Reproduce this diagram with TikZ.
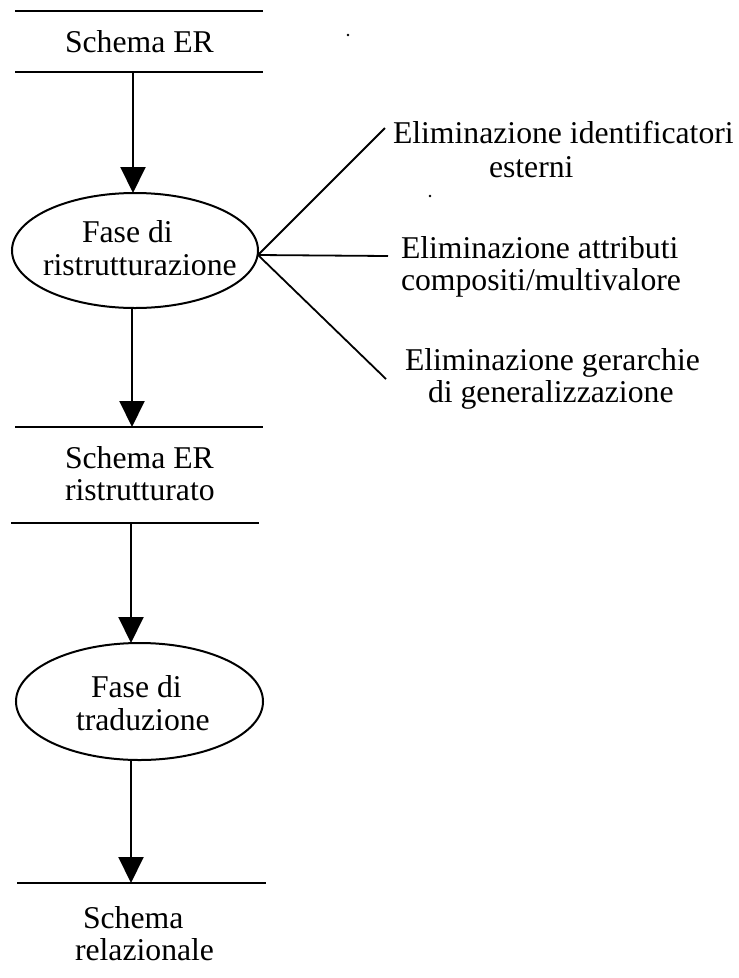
\documentclass[tikz,border=0pt]{standalone}
\usepackage{fontspec}
\setmainfont{Liberation Serif}
\usetikzlibrary{arrows.meta,shapes.geometric}
\begin{document}
\begin{tikzpicture}[x=1pt,y=-1pt,
  txt/.style={inner sep=0pt,outer sep=0pt,anchor=base west,font=\fontsize{31.7}{33}\selectfont},
  hline/.style={line width=2pt},
  conn/.style={line width=1.8pt},
  arr/.style={line width=2pt,-{Triangle[width=25pt,length=26pt]}},
  phase/.style={ellipse,draw,line width=2pt,inner sep=0pt,outer sep=0pt},
  speck/.style={fill=black,circle,inner sep=0pt,minimum size=2.6pt}
]
\useasboundingbox (0,0) rectangle (739,978);
\fill[white] (0,0) rectangle (739,978);

% horizontal lines
\coordinate (l1a) at (15,11);  \coordinate (l1b) at (263,11);
\coordinate (l2a) at (15,72);  \coordinate (l2b) at (263,72);
\coordinate (l3a) at (15,427); \coordinate (l3b) at (263,427);
\coordinate (l4a) at (11,523); \coordinate (l4b) at (259,523);
\coordinate (l5a) at (17,883); \coordinate (l5b) at (266,883);
\draw[hline] (l1a) -- (l1b);
\draw[hline] (l2a) -- (l2b);
\draw[hline] (l3a) -- (l3b);
\draw[hline] (l4a) -- (l4b);
\draw[hline] (l5a) -- (l5b);

% phases
\node[phase,minimum width=246pt,minimum height=115pt] (e1) at (135,250.5) {};
\node[phase,minimum width=247pt,minimum height=117pt] (e2) at (139.5,701.5) {};

% texts
\node[txt] (s1) at (65,52) {Schema ER};
\node[txt] (f1a) at (82,242) {Fase di};
\node[txt] (f1b) at (43,275) {ristrutturazione};
\node[txt] (s2a) at (65,468) {Schema ER};
\node[txt] (s2b) at (65,500) {ristrutturato};
\node[txt] (f2a) at (91,697) {Fase di};
\node[txt] (f2b) at (76,730) {traduzione};
\node[txt] (s3a) at (83,928) {Schema};
\node[txt] (s3b) at (75,960) {relazionale};

\node[txt] (r1a) at (393,143) {Eliminazione identificatori};
\node[txt] (r1b) at (489,177) {esterni};
\node[txt] (r2a) at (401,258) {Eliminazione attributi};
\node[txt] (r2b) at (401,290) {compositi/multivalore};
\node[txt] (r3a) at (405,370) {Eliminazione gerarchie};
\node[txt] (r3b) at (428,402) {di generalizzazione};

% arrows
\coordinate (a1) at (133,72);
\coordinate (a2) at (132,308);
\coordinate (a2t) at (132,427);
\coordinate (a3) at (131,523);
\coordinate (a4) at (131,760);
\coordinate (a4t) at (131,883);
\draw[arr] (a1) -- (a1 |- e1.north);
\draw[arr] (a2) -- (a2t);
\draw[arr] (a3) -- (a3 |- e2.north);
\draw[arr] (a4) -- (a4t);

% branches
\coordinate (hub) at (258,255);
\coordinate (t1) at (385,128);
\coordinate (t2) at (388,256);
\coordinate (t3) at (386,379);
\draw[conn] (hub) -- (t1);
\draw[conn] (hub) -- (t2);
\draw[conn] (hub) -- (t3);

% stray dots
\node[speck] (d1) at (348,35) {};
\node[speck] (d2) at (430,196) {};
\end{tikzpicture}
\end{document}
